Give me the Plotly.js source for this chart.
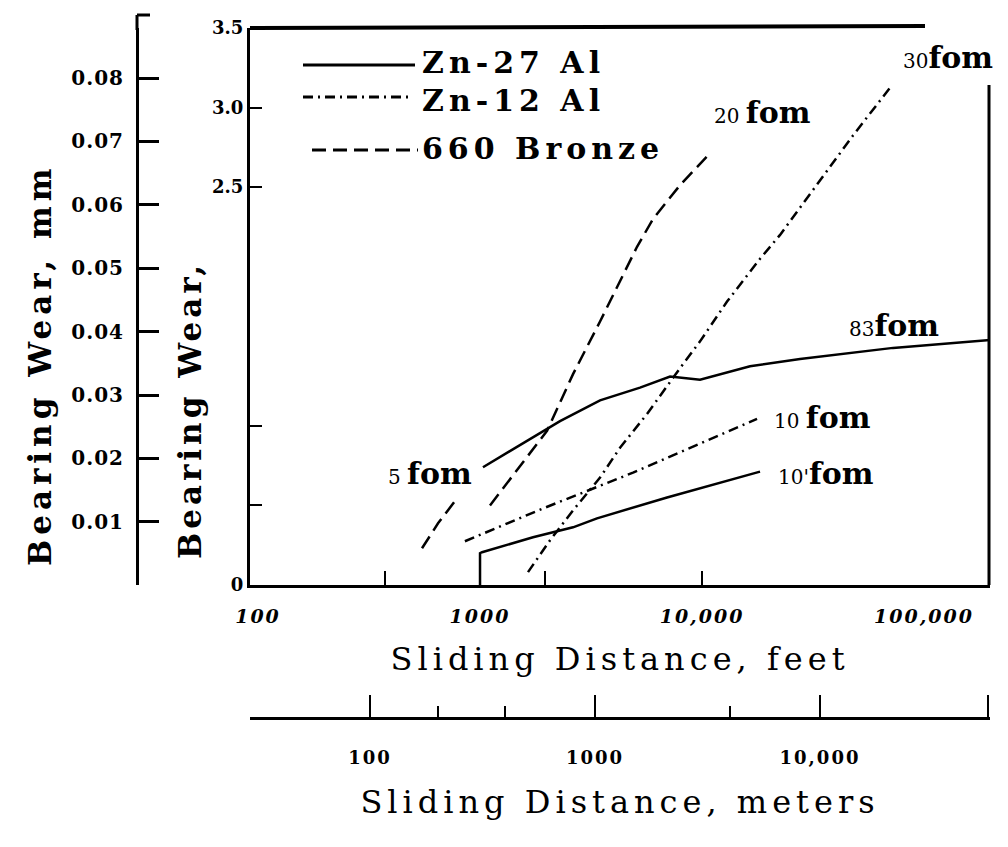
<!DOCTYPE html>
<html><head><meta charset="utf-8">
<script src="https://cdn.plot.ly/plotly-3.0.1.min.js"></script>
<style>html,body{margin:0;padding:0;background:#fff}</style>
</head><body>
<div id="chart" style="width:1008px;height:847px"></div>
<script>
// ---------- data (sliding distance in feet, bearing wear in 0.001 in) ----------
const feetTickVals = [100, 1000, 10000, 100000];
const feetTickText = ['100', '1000', '10,000', '100,000'];
const feetMinorTicks = [375, 1960, 10000];
const meterTickVals = [29.5, 100, 1000, 10000, 56000];
const meterTickText = ['', '100', '1000', '10,000', ''];
const meterMinorTicks = [200, 400, 4000];
const milTickVals = [0, 0.5, 1, 2.5, 3, 3.5];
const milTickText = ['0', '', '', '2.5', '3.0', '3.5'];
const mmTickVals = [0, 0.01, 0.02, 0.03, 0.04, 0.05, 0.06, 0.07, 0.08];
const mmTickText = ['', '0.01', '0.02', '0.03', '0.04', '0.05', '0.06', '0.07', '0.08'];

// Zn-27 Al, 10' fom
const zn27_10_x = [1000, 1000, 1021, 1733, 2624, 3365, 6956, 18250];
const zn27_10_y = [0, 0.20, 0.206, 0.30, 0.3625, 0.419, 0.55, 0.7125];
// Zn-27 Al, 83 fom
const zn27_83_x = [1031, 1562, 2293, 3472, 5256, 7177, 9795, 16450, 27630, 72520, 198300];
const zn27_83_y = [0.74, 0.89, 1.03, 1.16, 1.24, 1.31, 1.29, 1.375, 1.42, 1.49, 1.54];
// Zn-12 Al, 10 fom
const zn12_10_x = [855, 1922, 4888, 10530, 17690];
const zn12_10_y = [0.275, 0.481, 0.706, 0.906, 1.044];
// Zn-12 Al, 30 fom
const zn12_30_x = [1645, 2067, 2624, 3472, 4272, 5653, 7961, 9795, 12960, 18250, 22460, 47880, 70280];
const zn12_30_y = [0.081, 0.281, 0.469, 0.675, 0.8625, 1.075, 1.3625, 1.531, 1.781, 2.05, 2.20, 2.825, 3.125];
// 660 Bronze, 5 fom
const br_5_x = [548, 647, 788];
const br_5_y = [0.231, 0.3875, 0.544];
// 660 Bronze, 20 fom
const br_20_x = [1109, 2004, 2624, 3472, 5095, 6015, 7961, 10640];
const br_20_y = [0.50, 0.969, 1.325, 1.656, 2.125, 2.30, 2.5125, 2.70];

// ---------- layout helpers ----------
const FONT = '"DejaVu Serif", "Liberation Serif", serif';
const W = 1008, H = 847, L = 130, R = 18, T = 28, B = 47;
const PW = W - L - R, PH = H - T - B;
const px = v => (v - L) / PW;
const py = v => (H - B - v) / PH;
const sp = (t, s) => '<span style="letter-spacing:' + s + 'px">' + t + '</span>';

const DASH_ZN27 = 'solid';
const DASH_ZN12 = '10px,5px,2px,5px';
const DASH_BR = '14px,7px';

function line(x, y, dash, name) {
  return {type: 'scatter', mode: 'lines', x: x, y: y, name: name,
    line: {color: '#000', width: 2.5, dash: dash}, showlegend: false, hoverinfo: 'skip'};
}

const traces = [
  line(zn27_10_x, zn27_10_y, DASH_ZN27, "Zn-27 Al 10' fom"),
  line(zn27_83_x, zn27_83_y, DASH_ZN27, 'Zn-27 Al 83 fom'),
  line(zn12_10_x, zn12_10_y, DASH_ZN12, 'Zn-12 Al 10 fom'),
  line(zn12_30_x, zn12_30_y, DASH_ZN12, 'Zn-12 Al 30 fom'),
  line(br_5_x, br_5_y, DASH_BR, '660 Bronze 5 fom'),
  line(br_20_x, br_20_y, DASH_BR, '660 Bronze 20 fom'),
  {type: 'scatter', x: [], y: [], xaxis: 'x2', yaxis: 'y', showlegend: false, hoverinfo: 'skip'},
  {type: 'scatter', x: [], y: [], xaxis: 'x', yaxis: 'y2', showlegend: false, hoverinfo: 'skip'}
];

function lbl(num, x, y) {
  return {xref: 'paper', yref: 'paper', x: px(x), y: py(y), xanchor: 'center', yanchor: 'middle', showarrow: false,
    text: '<span style="font-size:20px;font-weight:normal">' + num + '</span>fom',
    font: {family: FONT, size: 30, color: '#000', weight: 'bold'}};
}
function legText(t, x, y) {
  return {xref: 'paper', yref: 'paper', x: px(x), y: py(y), xanchor: 'left', yanchor: 'middle', showarrow: false,
    text: sp(t, 5), font: {family: FONT, size: 30, color: '#000', weight: 'bold'}};
}
function legLine(x0, x1, y, dash) {
  return {type: 'line', xref: 'paper', yref: 'paper', x0: px(x0), x1: px(x1), y0: py(y), y1: py(y),
    line: {color: '#000', width: 3, dash: dash}};
}
function frame(x0, y0, x1, y1, w) {
  return {type: 'line', xref: 'paper', yref: 'paper', x0: px(x0), x1: px(x1), y0: py(y0), y1: py(y1),
    line: {color: '#000', width: w}};
}

const layout = {
  width: W, height: H,
  margin: {l: L, r: R, t: T, b: B, pad: 0},
  paper_bgcolor: '#fff', plot_bgcolor: '#fff',
  showlegend: false,
  font: {family: FONT, color: '#000'},
  xaxis: {
    type: 'log', range: [1.964, 5.297], domain: [px(250), 1], anchor: 'y',
    showline: true, linewidth: 3, linecolor: '#000', mirror: false,
    ticks: '', tickmode: 'array', tickvals: feetTickVals, ticktext: feetTickText.map(t => sp(t, 2)),
    ticklabelstandoff: 12,
    tickfont: {family: FONT, size: 19, color: '#000', weight: 'bold', style: 'italic'},
    showgrid: false, zeroline: false,
    minor: {tickmode: 'array', tickvals: feetMinorTicks, ticks: 'inside', ticklen: 14, tickwidth: 2, tickcolor: '#000', showgrid: false},
    title: {text: sp('Sliding Distance, feet', 5), font: {family: FONT, size: 32, color: '#000'}, standoff: 22}
  },
  xaxis2: {
    type: 'log', range: [1.4667, 4.7556], overlaying: 'x', anchor: 'free', position: py(718), side: 'bottom',
    showline: true, linewidth: 3, linecolor: '#000',
    ticks: 'inside', ticklen: 22, tickwidth: 2, tickcolor: '#000',
    tickmode: 'array', tickvals: meterTickVals, ticktext: meterTickText.map(t => sp(t, 2)),
    ticklabelstandoff: 22,
    tickfont: {family: FONT, size: 18, color: '#000', weight: 'bold'},
    showgrid: false, zeroline: false,
    minor: {tickmode: 'array', tickvals: meterMinorTicks, ticks: 'inside', ticklen: 11, tickwidth: 2, tickcolor: '#000', showgrid: false},
    title: {text: sp('Sliding Distance, meters', 5), font: {family: FONT, size: 32, color: '#000'}, standoff: 24}
  },
  yaxis: {
    range: [0, 3.5], domain: [py(585), 1], anchor: 'x',
    showline: true, linewidth: 3, linecolor: '#000',
    ticks: 'inside', ticklen: 12, tickwidth: 2, tickcolor: '#000',
    tickmode: 'array', tickvals: milTickVals, ticktext: milTickText,
    tickfont: {family: FONT, size: 18, color: '#000', weight: 'bold'}, showgrid: false, zeroline: false
  },
  yaxis2: {
    range: [0.00003, 0.0879], overlaying: 'y', anchor: 'free', position: px(137), side: 'left',
    showline: true, linewidth: 3, linecolor: '#000',
    ticks: 'inside', ticklen: 20, tickwidth: 3, tickcolor: '#000',
    tickmode: 'array', tickvals: mmTickVals, ticktext: mmTickText.map(t => sp(t, 1)),
    ticklabelstandoff: 8,
    tickfont: {family: FONT, size: 20, color: '#000', weight: 'bold'}, showgrid: false, zeroline: false
  },
  shapes: [
    frame(250, 28, 925, 26, 4),
    frame(989, 85, 989, 585, 3),
    frame(137, 15, 137, 30, 3),
    frame(137, 15, 150, 15, 3),
    legLine(303, 415, 65, 'solid'),
    legLine(303, 413, 97, DASH_ZN12),
    legLine(312, 418, 150, DASH_BR)
  ],
  annotations: [
    legText('Zn-27 Al', 420, 62),
    legText('Zn-12 Al', 420, 100),
    legText('660 Bronze', 420, 148),
    lbl('5 ', 430, 473),
    lbl('20 ', 762, 112),
    lbl('30', 948, 57),
    lbl('83', 894, 325),
    lbl('10 ', 822, 417),
    lbl("10'", 826, 473),
    {xref: 'paper', yref: 'paper', x: px(40), y: py(365), xanchor: 'center', yanchor: 'middle', showarrow: false, textangle: -90,
     text: sp('Bearing Wear, mm', 5),
     font: {family: FONT, size: 31, color: '#000', weight: 'bold'}},
    {xref: 'paper', yref: 'paper', x: px(190), y: py(410), xanchor: 'center', yanchor: 'middle', showarrow: false, textangle: -90,
     text: sp('Bearing Wear,', 4),
     font: {family: FONT, size: 31, color: '#000', weight: 'bold'}}
  ]
};

Plotly.newPlot('chart', traces, layout, {displayModeBar: false, staticPlot: true});
</script>
</body></html>
